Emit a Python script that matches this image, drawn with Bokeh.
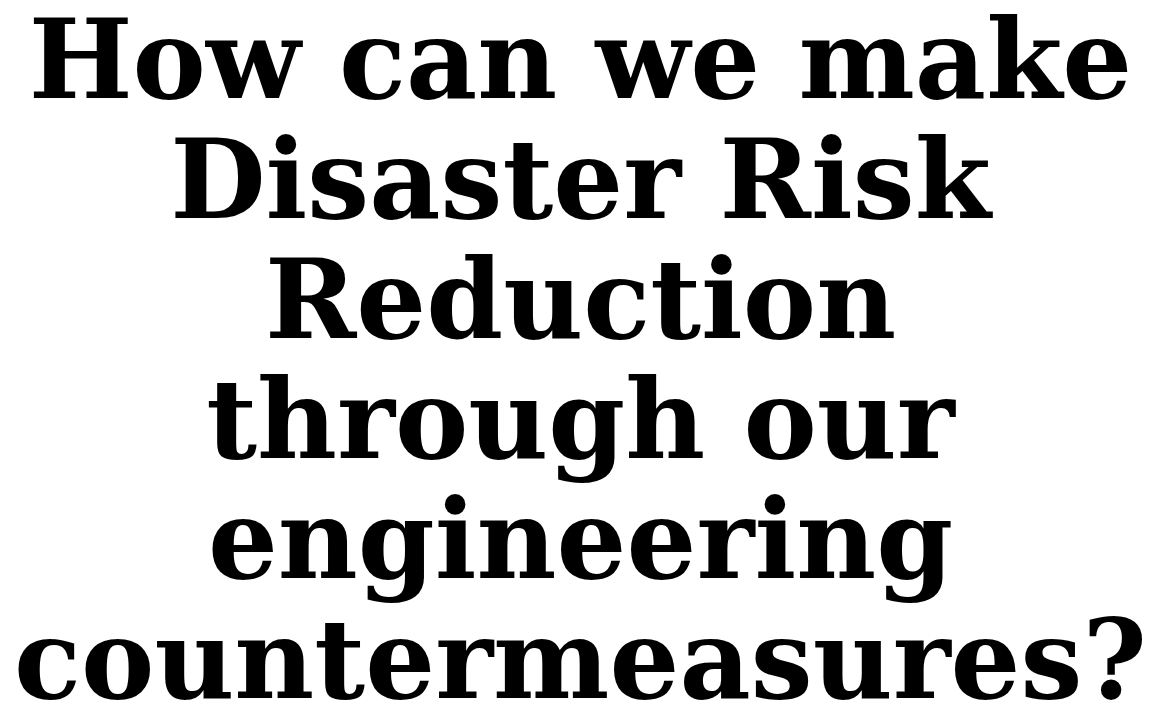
from bokeh.plotting import figure
from bokeh.models import Range1d, ColumnDataSource
from bokeh.core.properties import value
from bokeh.embed import file_html
from bokeh.resources import INLINE

# Title text, one entry per displayed line
lines = [
    "How can we make",
    "Disaster Risk",
    "Reduction",
    "through our",
    "engineering",
    "countermeasures?",
]

W, H = 1160, 707
FONT_PX = 110
LINE_H = 120
FIRST_ANCHOR = 59

src = ColumnDataSource(dict(
    x=[W / 2 + 0.0] * len(lines),
    y=[FIRST_ANCHOR + LINE_H * i for i in range(len(lines))],
    t=lines,
))

p = figure(width=W, height=H, output_backend="svg", toolbar_location=None,
           x_range=Range1d(0, W), y_range=Range1d(H, 0), min_border=0, title=None)
p.axis.visible = False
p.xgrid.visible = False
p.ygrid.visible = False
p.outline_line_color = None
p.background_fill_color = "white"
p.border_fill_color = "white"

p.text(x="x", y="y", text="t", source=src, text_align="center",
       text_baseline="alphabetic", text_font=value("DejaVu Serif"),
       text_font_style="bold", text_font_size=f"{FONT_PX}px", text_color="black")

open("out.html", "w").write(file_html(p, INLINE))
